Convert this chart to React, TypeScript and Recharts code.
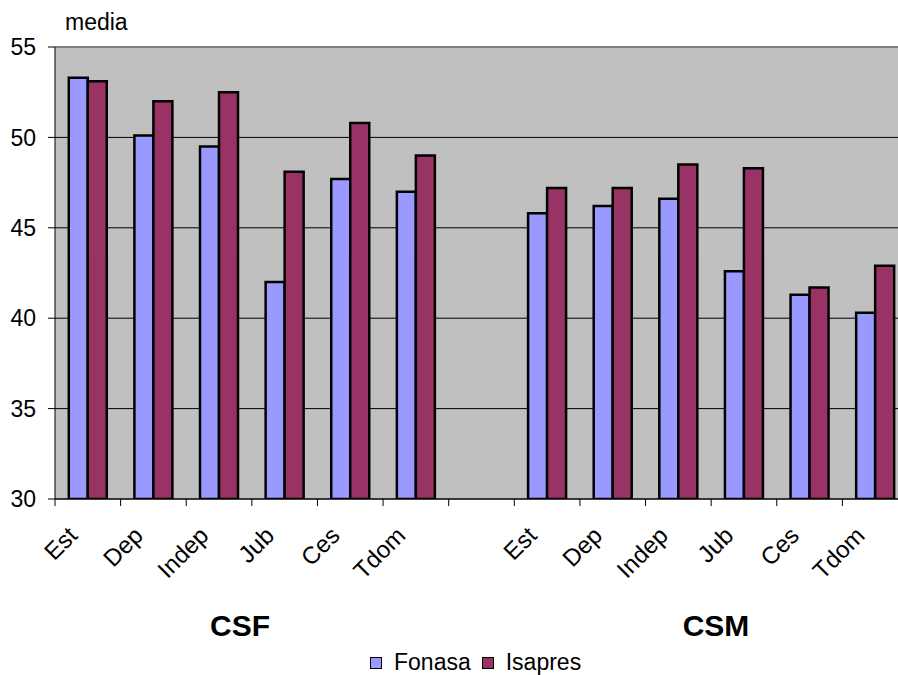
import { BarChart, Bar, XAxis, YAxis, CartesianGrid, ReferenceLine } from 'recharts';

const categories = ['Est', 'Dep', 'Indep', 'Jub', 'Ces', 'Tdom', '', 'Est', 'Dep', 'Indep', 'Jub', 'Ces', 'Tdom'];
const fonasa = [53.3, 50.1, 49.5, 42.0, 47.7, 47.0, null, 45.8, 46.2, 46.6, 42.6, 41.3, 40.3];
const isapres = [53.1, 52.0, 52.5, 48.1, 50.8, 49.0, null, 47.2, 47.2, 48.5, 48.3, 41.7, 42.9];
const yTicks = [30, 35, 40, 45, 50, 55];
const groups = [
  { name: 'CSF', center: 240 },
  { name: 'CSM', center: 716 }
];
const seriesNames = ['Fonasa', 'Isapres'];

const FONT = '"Liberation Sans", Arial, sans-serif';
const COLORS: Record<string, string> = {
  Fonasa: '#9999FF',
  Isapres: '#993366',
  plot: '#C0C0C0'
};

const data = categories.map((name, i) => ({
  name,
  Fonasa: fonasa[i],
  Isapres: isapres[i]
}));

// category label, plus the little tick at the left edge of each band
const CategoryTick = (props: any) => {
  const { x, y, payload } = props;
  const half = payload && typeof payload.offset === 'number' ? payload.offset : 32.8;
  const tx = x - 9;
  const ty = y + 38;
  return (
    <g>
      <line x1={x - half} x2={x - half} y1={y} y2={y + 7} stroke="#000" />
      {payload.value ? (
        <text
          x={tx}
          y={ty}
          textAnchor="end"
          transform={`rotate(-45, ${tx}, ${ty})`}
          fontSize={24}
          fontFamily={FONT}
          fill="#000"
        >
          {payload.value}
        </text>
      ) : null}
    </g>
  );
};

export default function App() {
  return (
    <div style={{ position: 'fixed', left: 0, top: 0, width: 898, height: 675, overflow: 'hidden', background: '#fff' }}>
      <BarChart
        width={920}
        height={675}
        data={data}
        margin={{ top: 47, right: 12, bottom: 76, left: 0 }}
        barCategoryGap="21%"
        barGap={0}
      >
        <CartesianGrid vertical={false} stroke="#000" fill={COLORS.plot} fillOpacity={1} />
        <XAxis
          dataKey="name"
          interval={0}
          height={100}
          tickLine={false}
          tickSize={0}
          tickMargin={0}
          axisLine={{ stroke: '#000' }}
          tick={<CategoryTick />}
        />
        <YAxis
          width={55}
          domain={[30, 55]}
          ticks={yTicks}
          allowDataOverflow
          tickSize={7}
          tickMargin={12}
          tickLine={{ stroke: '#000' }}
          axisLine={{ stroke: '#000' }}
          tick={{ fill: '#000', fontSize: 23, fontFamily: FONT }}
        />
        <ReferenceLine y={55} stroke="#808080" strokeWidth={2} />
        <Bar dataKey="Fonasa" fill={COLORS.Fonasa} stroke="#000" strokeWidth={2.5} isAnimationActive={false} />
        <Bar dataKey="Isapres" fill={COLORS.Isapres} stroke="#000" strokeWidth={2.5} isAnimationActive={false} />
      </BarChart>

      <div style={{ position: 'absolute', left: 65, top: 11, fontFamily: FONT, fontSize: 23, lineHeight: '23px' }}>media</div>
      {groups.map((g) => (
        <div
          key={g.name}
          style={{
            position: 'absolute',
            left: g.center,
            top: 611,
            transform: 'translateX(-50%)',
            fontFamily: FONT,
            fontSize: 30,
            fontWeight: 'bold',
            lineHeight: '30px'
          }}
        >
          {g.name}
        </div>
      ))}

      <div
        style={{
          position: 'absolute',
          left: 370,
          top: 651,
          display: 'flex',
          alignItems: 'center',
          fontFamily: FONT,
          fontSize: 23,
          lineHeight: '23px',
          color: '#000'
        }}
      >
        {seriesNames.map((s, i) => (
          <div key={s} style={{ display: 'flex', alignItems: 'center', marginRight: i === 0 ? 11 : 0 }}>
            <span style={{ width: 10, height: 10, background: COLORS[s], border: '1.5px solid #000', marginRight: 12 }} />
            <span>{s}</span>
          </div>
        ))}
      </div>
    </div>
  );
}
